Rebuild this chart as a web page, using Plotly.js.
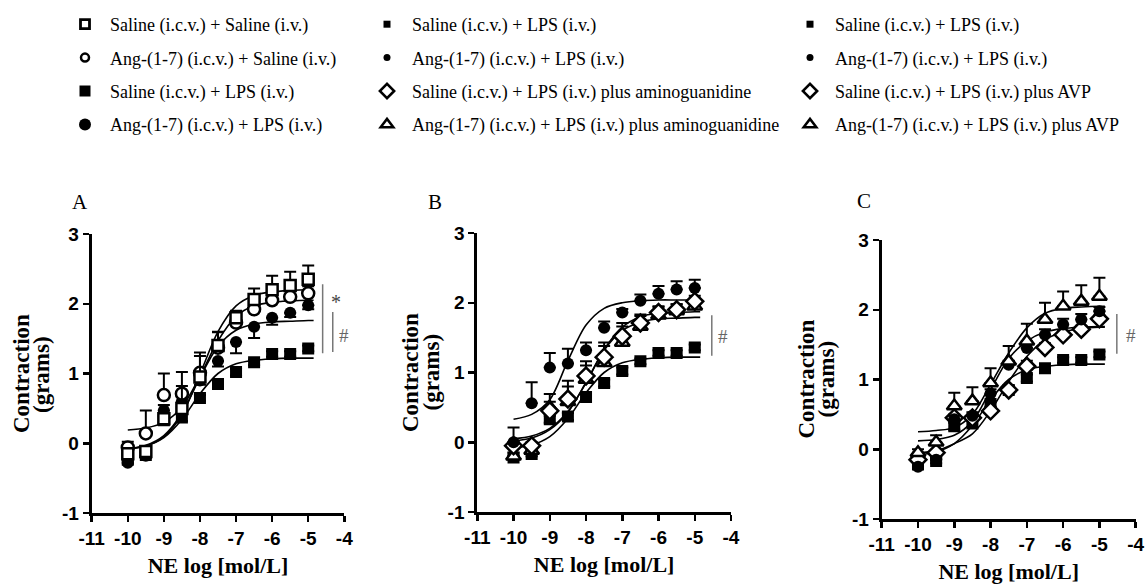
<!DOCTYPE html>
<html>
<head>
<meta charset="utf-8">
<script src="https://cdn.plot.ly/plotly-3.0.1.min.js"></script>
<style>
  html, body { margin: 0; padding: 0; background: #ffffff; }
  #chart { width: 1147px; height: 587px; }
</style>
</head>
<body>
<div id="chart"></div>
<script>
// ---------------- data ----------------
const DOSE = [-10, -9.5, -9, -8.5, -8, -7.5, -7, -6.5, -6, -5.5, -5];
const FIT_X = [-10, -9.5, -9, -8.5, -8, -7.5, -7, -6.5, -6, -5.5, -5, -4.85];

const X_TICKS = [-11, -10, -9, -8, -7, -6, -5, -4];
const X_TICK_LABELS = ['-11', '-10', '-9', '-8', '-7', '-6', '-5', '-4'];
const Y_TICKS = [-1, 0, 1, 2, 3];
const Y_TICK_LABELS = ['-1', '0', '1', '2', '3'];

// shared group: Saline (i.c.v.) + LPS (i.v.)
const SAL_LPS = [-0.22, -0.17, 0.33, 0.37, 0.65, 0.85, 1.02, 1.16, 1.28, 1.28, 1.36];
const SAL_LPS_ERR = [0.03, 0.03, 0.05, 0.05, 0.04, 0.05, 0.05, 0.04, 0.04, 0.04, 0.04];
const FIT_SAL_LPS = [-0.08, -0.04, 0.08, 0.34, 0.71, 1.0, 1.14, 1.19, 1.21, 1.22, 1.22, 1.22];

// panel A
const A_SAL_SAL = [-0.15, -0.12, 0.35, 0.5, 0.95, 1.4, 1.8, 2.06, 2.2, 2.26, 2.35];
const A_SAL_SAL_ERR = [0.05, 0.05, 0.2, 0.32, 0.3, 0.2, 0.1, 0.16, 0.2, 0.2, 0.2];
const A_ANG_SAL = [-0.06, 0.14, 0.69, 0.71, 1.01, 1.37, 1.73, 1.92, 2.05, 2.1, 2.15];
const A_ANG_SAL_ERR = [0.08, 0.33, 0.31, 0.31, 0.29, 0.22, 0.15, 0.15, 0.12, 0.1, 0.1];
const A_ANG_LPS = [-0.28, -0.18, 0.47, 0.6, 0.9, 1.18, 1.45, 1.67, 1.8, 1.87, 1.98];
const A_ANG_LPS_ERR = [0.03, 0.03, 0.08, 0.08, 0.06, 0.08, 0.16, 0.16, 0.1, 0.06, 0.06];
const A_FIT_SAL_SAL = [-0.08, -0.04, 0.09, 0.41, 0.99, 1.6, 1.97, 2.12, 2.17, 2.19, 2.2, 2.2];
const A_FIT_ANG_SAL = [0.19, 0.22, 0.3, 0.52, 0.96, 1.47, 1.82, 1.97, 2.02, 2.04, 2.05, 2.05];
const A_FIT_ANG_LPS = [-0.08, -0.03, 0.11, 0.43, 0.94, 1.39, 1.62, 1.71, 1.74, 1.75, 1.76, 1.76];

// panel B
const B_ANG_LPS = [0.0, 0.56, 1.07, 1.13, 1.32, 1.64, 1.86, 2.03, 2.13, 2.19, 2.21];
const B_ANG_LPS_ERR = [0.21, 0.3, 0.21, 0.21, 0.11, 0.09, 0.05, 0.09, 0.11, 0.12, 0.12];
const B_SAL_AG = [-0.05, -0.05, 0.45, 0.62, 0.95, 1.22, 1.52, 1.71, 1.86, 1.9, 2.02];
const B_SAL_AG_ERR = [0.05, 0.05, 0.24, 0.26, 0.21, 0.21, 0.19, 0.12, 0.09, 0.08, 0.08];
const B_ANG_AG = [-0.2, -0.12, 0.5, 0.58, 0.9, 1.14, 1.43, 1.66, 1.82, 1.88, 1.95];
const B_ANG_AG_ERR = [0.05, 0.05, 0.08, 0.22, 0.2, 0.24, 0.23, 0.15, 0.12, 0.1, 0.1];
const B_FIT_ANG_LPS = [0.33, 0.4, 0.61, 1.17, 1.68, 1.92, 2.0, 2.03, 2.04, 2.04, 2.04, 2.04];
const B_FIT_SAL_AG = [0.05, 0.09, 0.2, 0.44, 0.85, 1.33, 1.65, 1.8, 1.85, 1.86, 1.87, 1.87];
const B_FIT_ANG_AG = [0.02, 0.06, 0.18, 0.43, 0.86, 1.32, 1.6, 1.72, 1.77, 1.78, 1.79, 1.79];

// panel C
const C_ANG_LPS = [-0.25, -0.15, 0.43, 0.48, 0.8, 1.21, 1.45, 1.64, 1.79, 1.86, 1.98];
const C_ANG_LPS_ERR = [0.03, 0.03, 0.05, 0.05, 0.06, 0.06, 0.08, 0.08, 0.08, 0.08, 0.06];
const C_SAL_AVP = [-0.15, -0.05, 0.45, 0.45, 0.55, 0.85, 1.19, 1.46, 1.64, 1.72, 1.87];
const C_SAL_AVP_ERR = [0.03, 0.03, 0.05, 0.05, 0.05, 0.06, 0.08, 0.06, 0.06, 0.05, 0.05];
const C_ANG_AVP = [-0.05, 0.1, 0.62, 0.69, 0.95, 1.26, 1.55, 1.86, 2.05, 2.12, 2.19];
const C_ANG_AVP_ERR = [0.05, 0.1, 0.19, 0.2, 0.21, 0.22, 0.25, 0.24, 0.21, 0.23, 0.27];
const C_FIT_ANG_AVP = [0.25, 0.27, 0.31, 0.5, 0.93, 1.38, 1.74, 1.95, 2.02, 2.04, 2.05, 2.05];
const C_FIT_ANG_LPS = [0.12, 0.14, 0.2, 0.4, 0.85, 1.3, 1.55, 1.68, 1.73, 1.75, 1.76, 1.76];
const C_FIT_SAL_AVP = [-0.05, -0.02, 0.08, 0.22, 0.55, 0.97, 1.33, 1.57, 1.68, 1.73, 1.75, 1.75];

const LEGEND_A = ['Saline (i.c.v.) + Saline (i.v.)', 'Ang-(1-7) (i.c.v.) + Saline (i.v.)',
                  'Saline (i.c.v.) + LPS (i.v.)', 'Ang-(1-7) (i.c.v.) + LPS (i.v.)'];
const LEGEND_B = ['Saline (i.c.v.) + LPS (i.v.)', 'Ang-(1-7) (i.c.v.) + LPS (i.v.)',
                  'Saline (i.c.v.) + LPS (i.v.) plus aminoguanidine',
                  'Ang-(1-7) (i.c.v.) + LPS (i.v.) plus aminoguanidine'];
const LEGEND_C = ['Saline (i.c.v.) + LPS (i.v.)', 'Ang-(1-7) (i.c.v.) + LPS (i.v.)',
                  'Saline (i.c.v.) + LPS (i.v.) plus AVP', 'Ang-(1-7) (i.c.v.) + LPS (i.v.) plus AVP'];

// ---------------- helpers ----------------
const W = 1147, H = 587;
const px = v => v / W;
const py = v => 1 - v / H;
const zeros = DOSE.map(() => 0);

function fit(xa, ya, y) {
  return { type: 'scatter', mode: 'lines', x: FIT_X, y: y, xaxis: xa, yaxis: ya,
           line: { color: '#000', width: 1.6, shape: 'spline', smoothing: 0.9 },
           showlegend: false, hoverinfo: 'skip' };
}
// dir: 'up', 'down', 'both'
function pts(xa, ya, y, err, dir, symbol, size, open) {
  return {
    type: 'scatter', mode: 'markers', x: DOSE, y: y, xaxis: xa, yaxis: ya, showlegend: false,
    marker: { symbol: symbol, size: size, color: open ? '#fff' : '#000',
              line: { color: '#000', width: open ? 2.5 : 0 } },
    error_y: { type: 'data', symmetric: false,
               array: dir === 'down' ? zeros : err,
               arrayminus: dir === 'up' ? zeros : err,
               color: '#000', thickness: 2, width: 6 }
  };
}
function leg(legend, name, symbol, size, open, lw, rank) {
  return { type: 'scatter', mode: 'markers', x: [null], y: [null], name: name,
           legend: legend, legendgroup: legend + '_' + rank, legendrank: rank,
           marker: { symbol: symbol, size: size, color: open ? '#fff' : '#000',
                     line: { color: '#000', width: open ? lw : 0 } } };
}

const traces = [
  // panel A
  fit('x', 'y', FIT_SAL_LPS), fit('x', 'y', A_FIT_ANG_LPS), fit('x', 'y', A_FIT_ANG_SAL), fit('x', 'y', A_FIT_SAL_SAL),
  pts('x', 'y', SAL_LPS, SAL_LPS_ERR, 'both', 'square', 12, false),
  pts('x', 'y', A_ANG_LPS, A_ANG_LPS_ERR, 'down', 'circle', 12, false),
  pts('x', 'y', A_ANG_SAL, A_ANG_SAL_ERR, 'up', 'circle', 12, true),
  pts('x', 'y', A_SAL_SAL, A_SAL_SAL_ERR, 'up', 'square', 11, true),
  // panel B
  fit('x2', 'y2', FIT_SAL_LPS), fit('x2', 'y2', B_FIT_ANG_AG), fit('x2', 'y2', B_FIT_SAL_AG), fit('x2', 'y2', B_FIT_ANG_LPS),
  pts('x2', 'y2', SAL_LPS, SAL_LPS_ERR, 'both', 'square', 12, false),
  pts('x2', 'y2', B_ANG_AG, B_ANG_AG_ERR, 'up', 'triangle-up', 13, true),
  pts('x2', 'y2', B_SAL_AG, B_SAL_AG_ERR, 'up', 'diamond', 13, true),
  pts('x2', 'y2', B_ANG_LPS, B_ANG_LPS_ERR, 'up', 'circle', 12, false),
  // panel C
  fit('x3', 'y3', FIT_SAL_LPS), fit('x3', 'y3', C_FIT_SAL_AVP), fit('x3', 'y3', C_FIT_ANG_LPS), fit('x3', 'y3', C_FIT_ANG_AVP),
  pts('x3', 'y3', SAL_LPS, SAL_LPS_ERR, 'both', 'square', 12, false),
  pts('x3', 'y3', C_SAL_AVP, C_SAL_AVP_ERR, 'up', 'diamond', 13, true),
  pts('x3', 'y3', C_ANG_LPS, C_ANG_LPS_ERR, 'up', 'circle', 12, false),
  pts('x3', 'y3', C_ANG_AVP, C_ANG_AVP_ERR, 'up', 'triangle-up', 13, true),
  // legends
  leg('legend', LEGEND_A[0], 'square', 9, true, 2.8, 1),
  leg('legend', LEGEND_A[1], 'circle', 8, true, 2.5, 2),
  leg('legend', LEGEND_A[2], 'square', 11, false, 0, 3),
  leg('legend', LEGEND_A[3], 'circle', 12, false, 0, 4),
  leg('legend2', LEGEND_B[0], 'square', 7, false, 0, 1),
  leg('legend2', LEGEND_B[1], 'circle', 7, false, 0, 2),
  leg('legend2', LEGEND_B[2], 'diamond', 11, true, 2.5, 3),
  leg('legend2', LEGEND_B[3], 'triangle-up', 11, true, 2.5, 4),
  leg('legend3', LEGEND_C[0], 'square', 7, false, 0, 1),
  leg('legend3', LEGEND_C[1], 'circle', 7, false, 0, 2),
  leg('legend3', LEGEND_C[2], 'diamond', 11, true, 2.5, 3),
  leg('legend3', LEGEND_C[3], 'triangle-up', 11, true, 2.5, 4)
];

const SERIF = 'Liberation Serif, Times New Roman, serif';
const SANS = 'Liberation Sans, Arial, sans-serif';

function xAxis(domain, anchor) {
  return {
    domain: domain, anchor: anchor, range: [-11, -4], fixedrange: true,
    tickmode: 'array', tickvals: X_TICKS, ticktext: X_TICK_LABELS,
    ticks: 'outside', ticklen: 6, tickwidth: 2.5, tickcolor: '#000',
    showline: true, linewidth: 3, linecolor: '#000',
    showgrid: false, zeroline: false,
    tickfont: { family: SANS, size: 19, color: '#000', weight: 'bold' },
    title: { text: 'NE log [mol/L]', font: { family: SERIF, size: 22, color: '#000', weight: 'bold' }, standoff: 10 }
  };
}
function yAxis(domain, anchor) {
  return {
    domain: domain, anchor: anchor, range: [-1, 3], fixedrange: true,
    tickmode: 'array', tickvals: Y_TICKS, ticktext: Y_TICK_LABELS,
    ticks: 'outside', ticklen: 6, tickwidth: 2.5, tickcolor: '#000',
    showline: true, linewidth: 3, linecolor: '#000',
    showgrid: false, zeroline: false,
    tickfont: { family: SANS, size: 19, color: '#000', weight: 'bold' }
  };
}
function legendBox(xPx) {
  return { x: px(xPx), y: py(6), xanchor: 'left', yanchor: 'top',
           font: { family: SERIF, size: 18, color: '#000' },
           bgcolor: 'rgba(0,0,0,0)', borderwidth: 0,
           traceorder: 'grouped', tracegroupgap: 7, itemwidth: 40, valign: 'middle' };
}

function sigLine(xr, yr, x, y0, y1) {
  return { type: 'line', xref: xr, yref: yr, x0: x, x1: x, y0: y0, y1: y1,
           line: { color: '#777', width: 1.5 } };
}
function note(xr, yr, x, y, text, size, color) {
  return { xref: xr, yref: yr, x: x, y: y, text: text, showarrow: false,
           xanchor: 'center', yanchor: 'middle',
           font: { family: SERIF, size: size, color: color } };
}
function yTitle(xPx, yPx, text) {
  return { xref: 'paper', yref: 'paper', x: px(xPx), y: py(yPx), text: text, showarrow: false,
           textangle: -90, xanchor: 'center', yanchor: 'middle',
           font: { family: SERIF, size: 23, color: '#000', weight: 'bold' } };
}

const layout = {
  width: W, height: H, margin: { l: 0, r: 0, t: 0, b: 0 },
  paper_bgcolor: '#fff', plot_bgcolor: '#fff',
  font: { family: SANS, color: '#000' },
  showlegend: true,
  xaxis: xAxis([px(91.7), px(344.3)], 'y'),
  yaxis: yAxis([py(513), py(234)], 'x'),
  xaxis2: xAxis([px(477.3), px(731)], 'y2'),
  yaxis2: yAxis([py(512), py(233)], 'x2'),
  xaxis3: xAxis([px(881.7), px(1135.7)], 'y3'),
  yaxis3: yAxis([py(519), py(240)], 'x3'),
  legend: legendBox(60),
  legend2: legendBox(362),
  legend3: legendBox(785),
  shapes: [
    sigLine('x', 'y', -4.6, 1.29, 2.28),
    sigLine('x', 'y', -4.32, 1.31, 1.88),
    sigLine('x2', 'y2', -4.53, 1.24, 1.82),
    sigLine('x3', 'y3', -4.52, 1.37, 1.94)
  ],
  annotations: [
    note('paper', 'paper', px(80), py(202), 'A', 21, '#000'),
    note('paper', 'paper', px(434.5), py(202), 'B', 21, '#000'),
    note('paper', 'paper', px(864), py(201), 'C', 21, '#000'),
    note('x', 'y', -4.23, 2.02, '*', 20, '#444'),
    note('x', 'y', -4.0, 1.55, '#', 19, '#666'),
    note('x2', 'y2', -4.23, 1.52, '#', 19, '#666'),
    note('x3', 'y3', -4.13, 1.63, '#', 19, '#666'),
    yTitle(21, 374, 'Contraction'), yTitle(41, 375, '(grams)'),
    yTitle(410.5, 372.5, 'Contraction'), yTitle(431, 372.5, '(grams)'),
    yTitle(806, 379.5, 'Contraction'), yTitle(826, 379.5, '(grams)')
  ]
};

Plotly.newPlot('chart', traces, layout, { staticPlot: true, displayModeBar: false });
</script>
</body>
</html>
